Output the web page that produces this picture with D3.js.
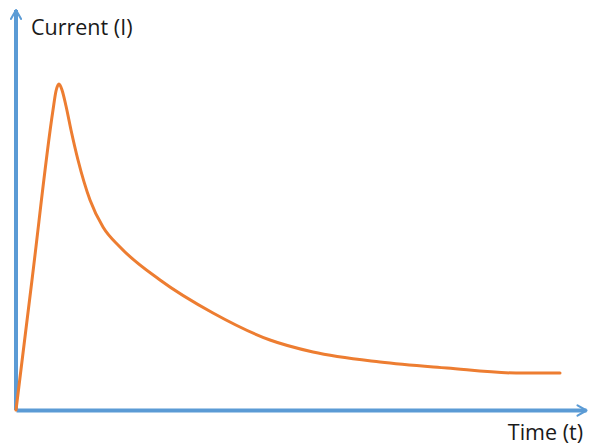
<!DOCTYPE html>
<html>
<head>
  <meta charset="utf-8">
  <title>Current vs Time</title>
  <script src="https://cdn.jsdelivr.net/npm/d3@7/dist/d3.min.js"></script>
  <style>
    body { margin: 0; background: #fff; }
    text { font-family: "Open Sans", "Liberation Sans", sans-serif; fill: #1a1a1a; }
  </style>
</head>
<body>
  <svg width="600" height="446"></svg>
  <script>
    // data (arbitrary units)
    var time    = [0, 16, 37, 40, 43, 46, 50, 55, 62, 74, 87, 104, 144, 197, 254, 297, 364, 431, 500, 544];
    var current = [0, 130, 300, 319, 326, 320, 304, 280, 250, 210, 183, 163, 130, 97, 70, 58, 48, 42, 37, 37];
    var xLabel = "Time (t)";
    var yLabel = "Current (I)";

    var svg = d3.select("svg");
    var origin = { x: 16, y: 410 };

    var x = d3.scaleLinear().domain([0, 570]).range([origin.x, 586]);
    var y = d3.scaleLinear().domain([0, 400]).range([origin.y, 10]);

    var blue = "#5b9bd5";
    var orange = "#ed7d31";

    // arrow head
    svg.append("defs").append("marker")
      .attr("id", "arrow")
      .attr("viewBox", "0 0 10 10")
      .attr("refX", 8).attr("refY", 5)
      .attr("markerWidth", 3.2).attr("markerHeight", 3.2)
      .attr("markerUnits", "strokeWidth")
      .attr("orient", "auto")
      .append("path")
      .attr("d", "M1,1 L8,5 L1,9")
      .attr("fill", "none")
      .attr("stroke", blue)
      .attr("stroke-width", 1.6)
      .attr("stroke-linecap", "round")
      .attr("stroke-linejoin", "round");

    // axes without ticks
    var gx = svg.append("g")
      .attr("transform", "translate(0," + origin.y + ")")
      .call(d3.axisBottom(x).tickValues([]).tickSizeOuter(0));
    var gy = svg.append("g")
      .attr("transform", "translate(" + origin.x + ",0)")
      .call(d3.axisLeft(y).tickValues([]).tickSizeOuter(0));

    svg.selectAll(".domain")
      .attr("stroke", blue)
      .attr("stroke-width", 4)
      .attr("marker-end", "url(#arrow)");
    gy.select(".domain").attr("d", "M0," + y(0) + "V" + y(400));

    // curve
    var pts = time.map(function (t, i) { return [t, current[i]]; });
    var line = d3.line()
      .x(function (d) { return x(d[0]); })
      .y(function (d) { return y(d[1]); })
      .curve(d3.curveMonotoneX);

    svg.append("path")
      .datum(pts)
      .attr("d", line)
      .attr("fill", "none")
      .attr("stroke", orange)
      .attr("stroke-width", 3)
      .attr("stroke-linecap", "round");

    // labels
    svg.append("text")
      .attr("x", 31).attr("y", 35)
      .attr("font-size", 21.5)
      .text(yLabel);
    svg.append("text")
      .attr("x", 583).attr("y", 440)
      .attr("text-anchor", "end")
      .attr("font-size", 21.5)
      .text(xLabel);
  </script>
</body>
</html>
